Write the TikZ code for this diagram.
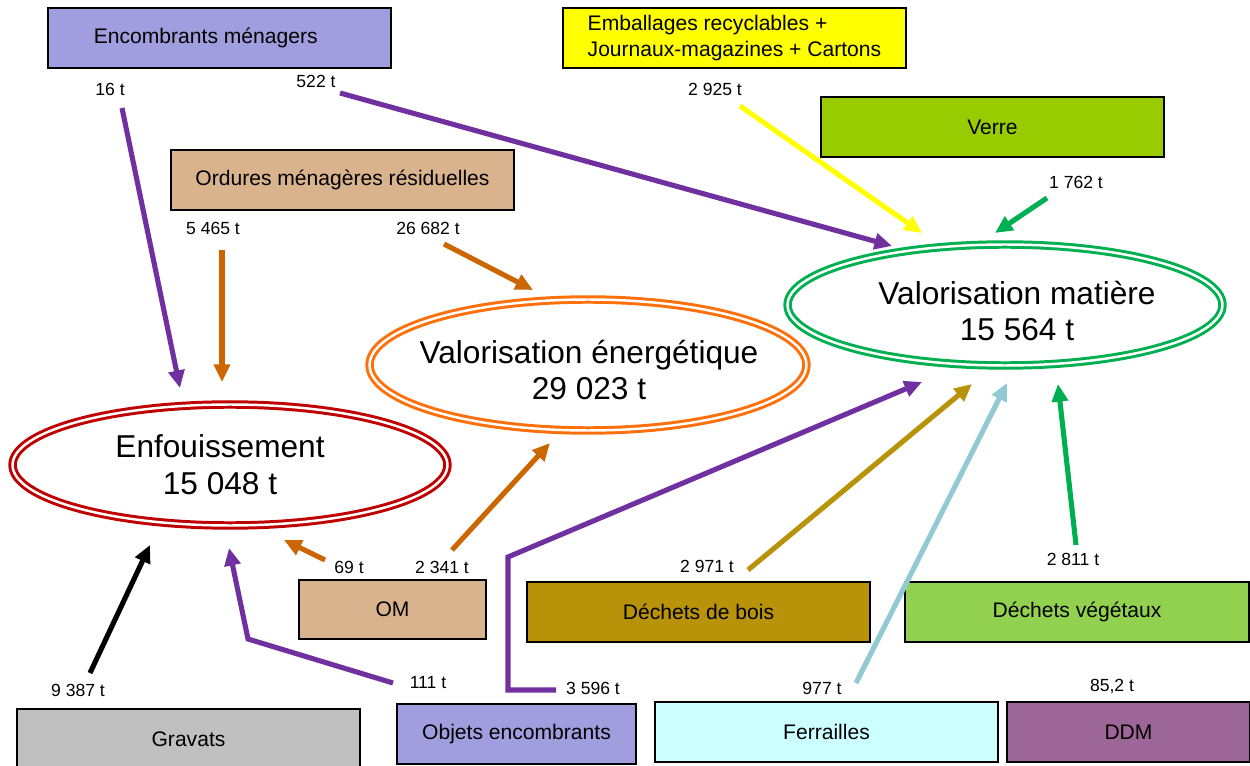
\documentclass[tikz,border=0pt]{standalone}
\usepackage{fontspec}
\setmainfont{Liberation Sans}
\usetikzlibrary{shapes.geometric, arrows.meta}

\definecolor{lavande}{RGB}{160,158,222}
\definecolor{jaune}{RGB}{255,255,0}
\definecolor{verre}{RGB}{153,204,0}
\definecolor{tan}{RGB}{217,179,142}
\definecolor{bois}{RGB}{184,146,8}
\definecolor{vegetal}{RGB}{146,208,80}
\definecolor{gris}{RGB}{192,192,192}
\definecolor{ciel}{RGB}{204,255,255}
\definecolor{prune}{RGB}{157,102,153}
\definecolor{rouge}{RGB}{192,0,0}
\definecolor{orange}{RGB}{255,112,10}
\definecolor{vert}{RGB}{0,176,80}
\definecolor{violet}{RGB}{112,48,160}
\definecolor{brun}{RGB}{204,102,0}
\definecolor{bleu}{RGB}{146,202,212}

\begin{document}
\begin{tikzpicture}[
  x=0.02cm, y=-0.02cm,
  box/.style={draw, line width=1pt, minimum width=6.86cm, minimum height=1.2cm, inner sep=2pt, font=\fontsize{12}{15}\selectfont},
  sink/.style={ellipse, fill=white, double=white, line width=1.7pt, double distance=1.4pt, inner sep=0pt},
  total/.style={align=center, font=\fontsize{18}{21}\selectfont},
  qty/.style={font=\fontsize{10}{12}\selectfont, inner sep=1pt},
  flow/.style={-{Triangle[length=10pt,width=9pt]}, line width=2.9pt}
]
\useasboundingbox (0,0) rectangle (1250,766);

% Destinations
\node[sink, draw=rouge, minimum width=8.7cm, minimum height=2.42cm] (enf) at (230,465) {};
\node[total] (enf-t) at (220,465) {Enfouissement\\15 048 t};
\node[sink, draw=orange, minimum width=8.74cm, minimum height=2.62cm] (ener) at (588,365) {};
\node[total] (ener-t) at (589,370) {Valorisation énergétique\\29 023 t};
\node[sink, draw=vert, minimum width=8.7cm, minimum height=2.42cm] (mat) at (1005,305) {};
\node[total] (mat-t) at (1017,311) {Valorisation matière\\15 564 t};

% Gisements
\node[box, fill=lavande] (encm) at (219.5,38) {Encombrants ménagers\hspace*{0.55cm}};
\node[box, fill=jaune, align=left] (emb) at (734.5,38) {Emballages recyclables +\\Journaux-magazines + Cartons};
\node[box, fill=verre] (verre) at (992.5,127) {Verre};
\node[box, fill=tan] (omr) at (342.5,180) {Ordures ménagères résiduelles};
\node[box, fill=tan, minimum width=3.74cm, minimum height=1.18cm] (om) at (392.5,609.5) {OM};
\node[box, fill=bois] (bois) at (698.5,612) {Déchets de bois};
\node[box, fill=vegetal, minimum width=6.88cm] (veg) at (1077,612) {Déchets végétaux};
\node[box, fill=gris] (grav) at (188.5,739) {Gravats};
\node[box, fill=lavande, minimum width=4.78cm] (obj) at (516.5,734) {Objets encombrants};
\node[box, fill=ciel] (ferr) at (826.5,732) {Ferrailles};
\node[box, fill=prune, minimum width=4.86cm] (ddm) at (1128.5,732) {DDM};

% Tonnages
\foreach \n/\x/\y/\t in {16/110/89/16 t, 522/316/81/522 t, 2925/715/89/2 925 t,
    1762/1076/182/1 762 t, 5465/213/228/5 465 t, 26682/428/228/26 682 t,
    69/349/567/69 t, 2341/442/567/2 341 t, 9387/78/690/9 387 t,
    111/428/683/111 t, 3596/593/688/3 596 t, 2971/707/566/2 971 t,
    977/822/688/977 t, 2811/1073/559/2 811 t, 852/1112/686/{85,2 t}}
  \node[qty] (q\n) at (\x,\y) {\t};

% Flux directs
\foreach \n/\c/\xa/\ya/\xb/\yb in {16/violet/122/108/180/388, 522/violet/340/93/892/246,
    2925/jaune/740/106/922/233, 1762/vert/1047/198/995/233,
    5465/brun/222/250/222/382, 26682/brun/444/244/533/290,
    69/brun/325/560/284/540, 2341/brun/452/550/550/443,
    9387/black/90/673/150/545, 2971/bois/748/570/972/384,
    977/bleu/856/683/1007/383, 2811/vert/1076/545/1058/384} {
  \coordinate (a\n) at (\xa,\ya);
  \coordinate (b\n) at (\xb,\yb);
  \draw[flow, \c] (a\n) -- (b\n);
}

% Flux avec coudes
\coordinate (a111) at (393,683);
\coordinate (k111) at (248,639);
\coordinate (b111) at (229,548);
\draw[flow, violet] (a111) -- (k111) -- (b111);

\coordinate (a3596) at (556,690);
\coordinate (k3596) at (508,690);
\coordinate (l3596) at (508,557);
\coordinate (b3596) at (922,382);
\draw[flow, violet] (a3596) -- (k3596) -- (l3596) -- (b3596);

\end{tikzpicture}
\end{document}
